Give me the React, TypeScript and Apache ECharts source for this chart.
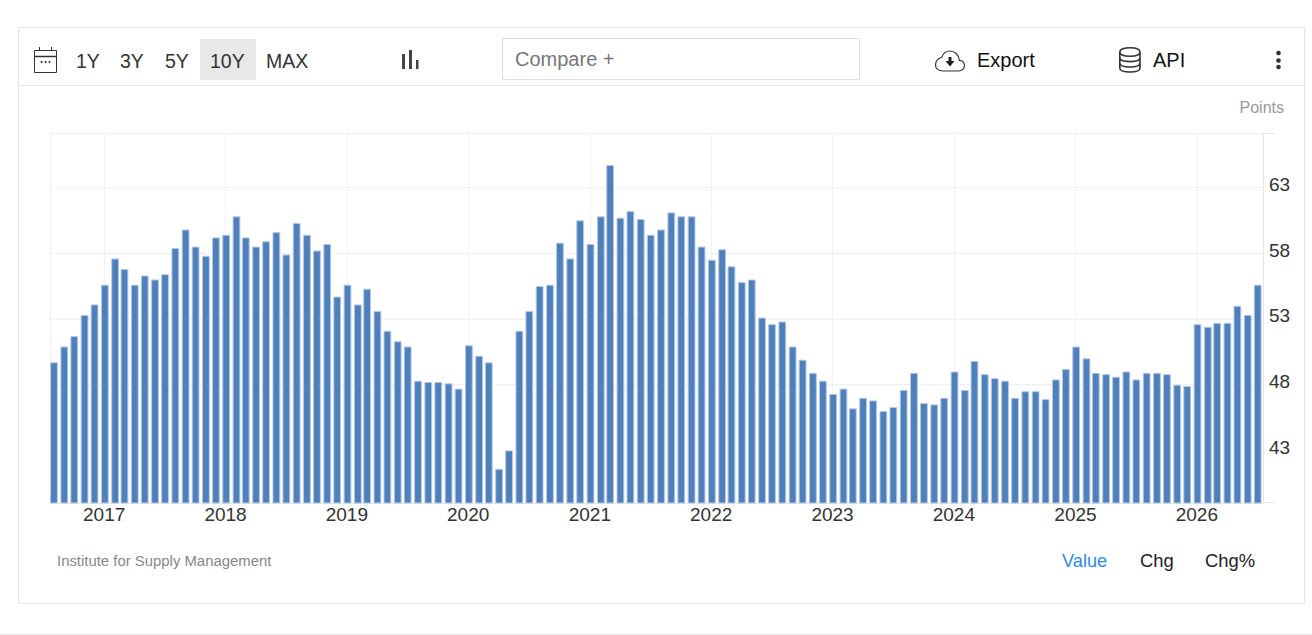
import React, { useEffect, useRef } from "react";
import * as echarts from "echarts";

const startYear = 2016;
const startMonth = 6; // July 2016, zero-based
const values = [
  49.7, 50.9, 51.7, 53.3, 54.1, 55.6, 57.6, 56.8, 55.6, 56.3, 56.0, 56.4,
  58.4, 59.8, 58.5, 57.8, 59.2, 59.4, 60.8, 59.2, 58.5, 58.9, 59.6, 57.9,
  60.3, 59.4, 58.2, 58.7, 54.7, 55.6, 54.1, 55.3, 53.6, 52.1, 51.3, 50.9,
  48.3, 48.2, 48.2, 48.1, 47.7, 51.0, 50.2, 49.7, 41.6, 43.0, 52.1, 53.6,
  55.5, 55.6, 58.8, 57.6, 60.5, 58.7, 60.8, 64.7, 60.7, 61.2, 60.6, 59.4,
  59.8, 61.1, 60.8, 60.8, 58.5, 57.5, 58.3, 57.0, 55.8, 56.0, 53.1, 52.6,
  52.8, 50.9, 49.9, 48.9, 48.3, 47.3, 47.7, 46.2, 47.0, 46.8, 46.0, 46.3,
  47.6, 48.9, 46.6, 46.5, 47.0, 49.0, 47.6, 49.8, 48.8, 48.5, 48.3, 47.0,
  47.5, 47.5, 46.9, 48.4, 49.2, 50.9, 50.0, 48.9, 48.8, 48.6, 49.0, 48.4,
  48.9, 48.9, 48.8, 48.0, 47.9, 52.6, 52.4, 52.7, 52.7, 54.0, 53.3, 55.6,
];
const yTicks = [43, 48, 53, 58, 63];
const years = [2017, 2018, 2019, 2020, 2021, 2022, 2023, 2024, 2025, 2026];
const ranges = ["1Y", "3Y", "5Y", "10Y", "MAX"];
const views = ["Value", "Chg", "Chg%"];

const FONT = '"Liberation Sans", Arial, sans-serif';
const CLOUD =
  "M8 20.5 H23.5 C27 20.5 29.5 18 29.5 15 C29.5 12 27.2 9.8 24.5 9.8 C23.6 4 19.5 0.5 15 0.5 C11 0.5 8 3 6.8 6.8 C3 8 0.5 11 0.5 14.5 C0.5 18 3.5 20.5 8 20.5 Z";
const DB =
  "M0.8 5 C0.8 2.2 5.5 0.8 11 0.8 C16.5 0.8 21 2.2 21 5 V21 C21 23.6 16.5 25 11 25 C5.5 25 0.8 23.6 0.8 21 Z M0.8 5 C0.8 7.8 5.5 9.2 11 9.2 C16.5 9.2 21 7.8 21 5 M0.8 10.5 C0.8 13.3 5.5 14.6 11 14.6 C16.5 14.6 21 13.3 21 10.5 M0.8 16 C0.8 18.8 5.5 20 11 20 C16.5 20 21 18.8 21 16";
echarts.graphic.registerShape("cloudIcon", echarts.graphic.extendPath(CLOUD as any, {}) as any);
echarts.graphic.registerShape("dbIcon", echarts.graphic.extendPath(DB as any, {}) as any);

const txt = (text: string, x: number, y: number, fontSize: number, fill: string, align = "left") => ({
  type: "text",
  x,
  y,
  silent: true,
  style: { text, fontSize, fill, fontFamily: FONT, textAlign: align, textVerticalAlign: "middle" },
});
const box = (x: number, y: number, width: number, height: number, fill: string, stroke?: string) => ({
  type: "rect",
  silent: true,
  shape: { x, y, width, height },
  style: { fill, stroke: stroke ?? "none", lineWidth: 1 },
});
const seg = (x1: number, y1: number, x2: number, y2: number, stroke: string, lineWidth = 1) => ({
  type: "line",
  silent: true,
  shape: { x1, y1, x2, y2 },
  style: { stroke, lineWidth },
});

export default function App() {
  const ref = useRef<HTMLDivElement>(null);
  useEffect(() => {
    document.body.style.margin = "0";
    const chart = echarts.init(ref.current!, undefined, { renderer: "svg" });
    const data = values.map((v, i) => [new Date(startYear, startMonth + i + 1, 3).getTime(), v]);
    const xMin = new Date(2016, 6, 22).getTime();
    const xMax = new Date(2026, 6, 19).getTime();
    const yMax = 67.1;
    const yearTimes = years.map((y) => new Date(y, 0, 1).getTime());
    const rangeX = [76, 120, 165, 210, 266];
    const line = "#e6e6e6";
    chart.setOption({
      animation: false,
      backgroundColor: "#fff",
      grid: { left: 50, right: 49, top: 133.5, bottom: 132 },
      xAxis: {
        type: "value",
        min: xMin,
        max: xMax,
        axisLine: { show: true, lineStyle: { color: line, width: 1 } },
        axisTick: { show: false, customValues: [xMin, ...yearTimes] },
        axisLabel: {
          customValues: yearTimes,
          margin: 2,
          fontSize: 19,
          color: "#333",
          fontFamily: FONT,
          hideOverlap: false,
          formatter: (v: number) => String(new Date(v).getFullYear()),
        },
        splitLine: { show: true, lineStyle: { color: "#e4e4e4", type: "dotted", width: 1 } },
      },
      yAxis: {
        type: "value",
        position: "right",
        min: 39,
        max: yMax,
        axisLine: { show: true, lineStyle: { color: line, width: 1 } },
        axisTick: { show: false, customValues: [...yTicks, yMax] },
        axisLabel: {
          customValues: yTicks,
          margin: 6,
          fontSize: 19,
          color: "#333",
          fontFamily: FONT,
          verticalAlign: "bottom",
          lineHeight: 6,
        },
        splitLine: {
          show: true,
          showMinLine: false,
          showMaxLine: true,
          lineStyle: { color: "#e2e2e2", type: "dotted", width: 1 },
        },
      },
      series: [
        {
          type: "bar",
          data,
          barWidth: 7.8,
          itemStyle: { color: "#4f80bc", borderColor: "#b4c8e4", borderWidth: 1 },
          emphasis: { disabled: true },
          silent: true,
        },
      ],
      graphic: {
        elements: [
          box(18.5, 27.5, 1286, 576, "none", line),
          seg(19, 85.5, 1304, 85.5, line),
          seg(0, 634.5, 1312, 634.5, line),
          seg(1263, 133.5, 1275, 133.5, line),
          seg(1263, 502.5, 1275, 502.5, line),
          // calendar icon
          box(34.5, 50.5, 22, 22, "none", "#333"),
          seg(35, 56.5, 56, 56.5, "#333", 1.5),
          seg(39.5, 47, 39.5, 50, "#333"),
          seg(51.5, 47, 51.5, 50, "#333"),
          { type: "circle", silent: true, shape: { cx: 41.5, cy: 62, r: 1 }, style: { fill: "#333" } },
          { type: "circle", silent: true, shape: { cx: 45.5, cy: 62, r: 1 }, style: { fill: "#333" } },
          { type: "circle", silent: true, shape: { cx: 49.5, cy: 62, r: 1 }, style: { fill: "#333" } },
          // range buttons
          box(200, 39, 56, 41, "#e8e8e8"),
          ...ranges.map((r, i) => txt(r, rangeX[i], 60.5, 19.5, "#333")),
          // chart-type icon
          box(402, 54, 3, 15, "#444"),
          box(409, 50, 3, 19, "#444"),
          box(416, 60, 2.5, 9, "#444"),
          // compare box
          box(502.5, 38.5, 357, 41, "#fff", "#dcdcdc"),
          txt("Compare +", 515, 58.5, 20, "#777"),
          // export
          { type: "cloudIcon", silent: true, x: 935, y: 50.5, style: { fill: "#fff", stroke: "#333", lineWidth: 1.2 } },
          { type: "circle", silent: true, shape: { cx: 950, cy: 62, r: 6 }, style: { fill: "#fff" } },
          box(948.5, 57, 3, 5, "#222"),
          { type: "polygon", silent: true, shape: { points: [[945.5, 61], [954.5, 61], [950, 66.5]] }, style: { fill: "#222" } },
          txt("Export", 977, 59.5, 20, "#111"),
          // api
          { type: "dbIcon", silent: true, x: 1119, y: 47, style: { fill: "none", stroke: "#333", lineWidth: 1.6 } },
          txt("API", 1153, 59.5, 20, "#111"),
          // kebab
          ...[53, 60.5, 67].map((cy) => ({
            type: "circle",
            silent: true,
            shape: { cx: 1278.5, cy, r: 2.3 },
            style: { fill: "#333" },
          })),
          txt("Points", 1284, 107, 16, "#999", "right"),
          txt("Institute for Supply Management", 57, 561, 14.9, "#888"),
          txt(views[0], 1062, 560.5, 18.2, "#2e8ae6"),
          txt(views[1], 1140, 560.5, 18.4, "#222"),
          txt(views[2], 1205, 560.5, 18.4, "#222"),
        ],
      },
    });
    return () => chart.dispose();
  }, []);
  return <div ref={ref} style={{ position: "absolute", left: 0, top: 0, width: 1312, height: 635 }} />;
}
